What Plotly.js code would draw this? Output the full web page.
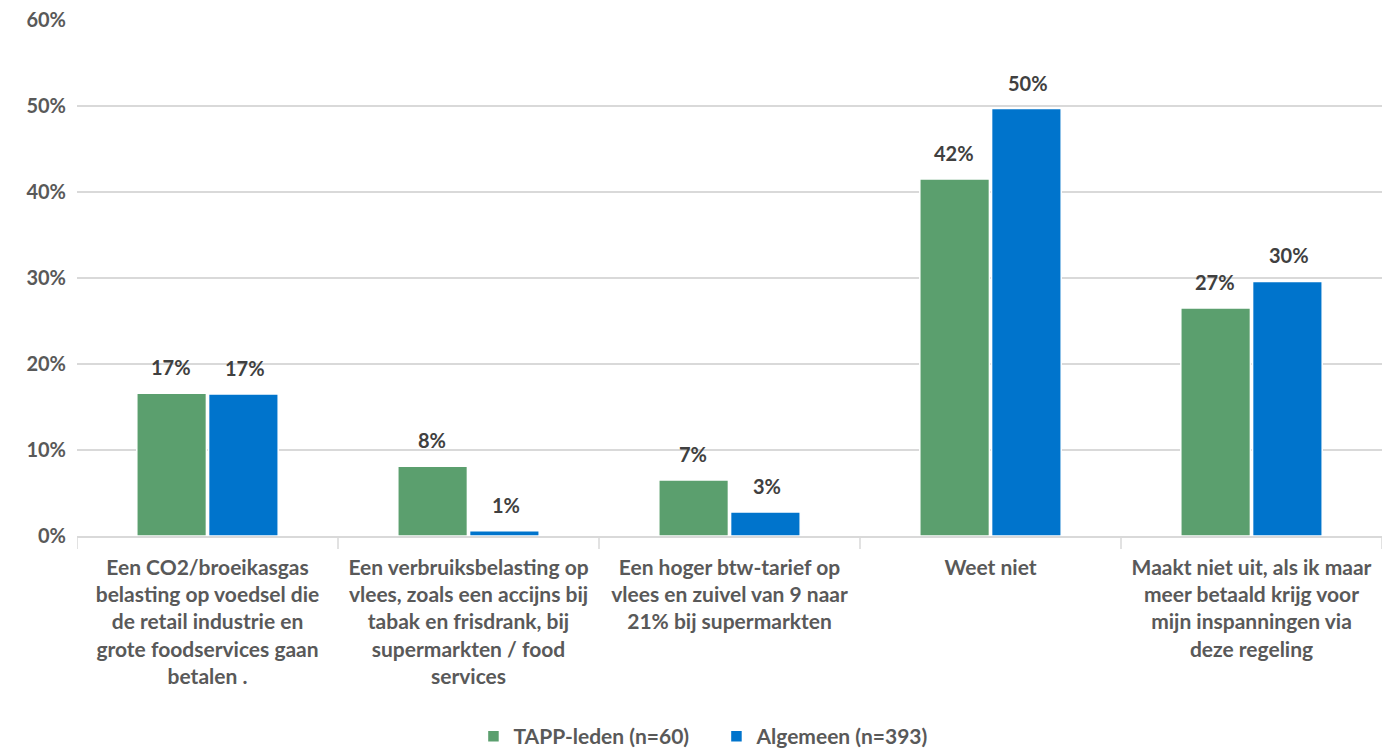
<!DOCTYPE html>
<html>
<head>
<meta charset="utf-8">
<script src="https://cdn.plot.ly/plotly-3.0.1.min.js"></script>
<style>html,body{margin:0;padding:0;background:#fff;}#chart{width:1389px;height:750px;}</style>
</head>
<body>
<div id="chart"></div>
<script>
const categories = [
  "Een CO2/broeikasgas<br>belasting op voedsel die<br>de retail industrie en<br>grote foodservices gaan<br>betalen .",
  "Een verbruiksbelasting op<br>vlees, zoals een accijns bij<br>tabak en frisdrank, bij<br>supermarkten / food<br>services",
  "Een hoger btw-tarief op<br>vlees en zuivel van 9 naar<br>21% bij supermarkten",
  "Weet niet",
  "Maakt niet uit, als ik maar<br>meer betaald krijg voor<br>mijn inspanningen via<br>deze regeling"
];
const seriesNames = ["TAPP-leden (n=60)", "Algemeen (n=393)"];
const tappValues = [16.6, 8.1, 6.5, 41.5, 26.5];
const algemeenValues = [16.5, 0.6, 2.8, 49.7, 29.6];
const yTickValues = [0, 10, 20, 30, 40, 50, 60];
const yTickLabels = ["0%", "10%", "20%", "30%", "40%", "50%", "60%"];

const FONT = "Lato, 'Open Sans', sans-serif";
const catIdx = categories.map((_, i) => i);

const traces = [
  {type: "bar", name: seriesNames[0], x: catIdx, y: tappValues,
   marker: {color: "#5b9f6e", line: {color: "#ffffff", width: 1.5}}, hoverinfo: "skip"},
  {type: "bar", name: seriesNames[1], x: catIdx, y: algemeenValues,
   marker: {color: "#0074cc", line: {color: "#ffffff", width: 1.5}}, hoverinfo: "skip"}
];

const annotations = [];
[tappValues, algemeenValues].forEach((vals, s) => {
  vals.forEach((v, i) => {
    annotations.push({
      x: i, y: v, xref: "x", yref: "y", showarrow: false,
      text: Math.round(v) + "%", yanchor: "bottom",
      xshift: s === 0 ? -37 : 37, yshift: 12,
      font: {family: FONT, size: 20, color: "#404040", weight: "bold"}
    });
  });
});

const layout = {
  width: 1389, height: 750,
  margin: {l: 77, r: 7, t: 20, b: 214, autoexpand: false},
  paper_bgcolor: "#ffffff", plot_bgcolor: "#ffffff",
  barmode: "group", bargap: 0.45, bargroupgap: 0.03,
  font: {family: FONT, color: "#595959"},
  xaxis: {
    type: "linear", range: [-0.5, 4.5], automargin: false,
    tickmode: "array", tickvals: catIdx, ticktext: categories,
    showgrid: false, zeroline: false,
    showline: true, linecolor: "#d9d9d9", linewidth: 1.5,
    ticks: "",
    tickfont: {family: FONT, size: 21, color: "#595959", weight: "bold"},
    ticklabelstandoff: 12
  },
  yaxis: {
    range: [0, 60], automargin: false, tickmode: "array", tickvals: yTickValues, ticktext: yTickLabels,
    showgrid: true, gridcolor: "#d9d9d9", gridwidth: 1.5,
    zeroline: false, showline: false, ticks: "",
    tickfont: {family: FONT, size: 20, color: "#595959", weight: "bold"},
    ticklabelstandoff: 10
  },
  shapes: [0, 1, 2, 3, 4, 5].map(k => ({
    type: "line", xref: "x", yref: "paper", x0: k - 0.5, x1: k - 0.5, y0: 0, y1: -0.025,
    line: {color: "#d9d9d9", width: 1.5}
  })),
  showlegend: true,
  legend: {orientation: "h", x: 0.490, xanchor: "center", yref: "container", y: 0.018, yanchor: "middle",
    entrywidth: 198, entrywidthmode: "pixels",
    font: {family: FONT, size: 21, color: "#595959", weight: "bold"}, itemwidth: 30, traceorder: "normal"},
  annotations: annotations
};

Plotly.newPlot("chart", traces, layout, {displayModeBar: false, staticPlot: true});
</script>
</body>
</html>
